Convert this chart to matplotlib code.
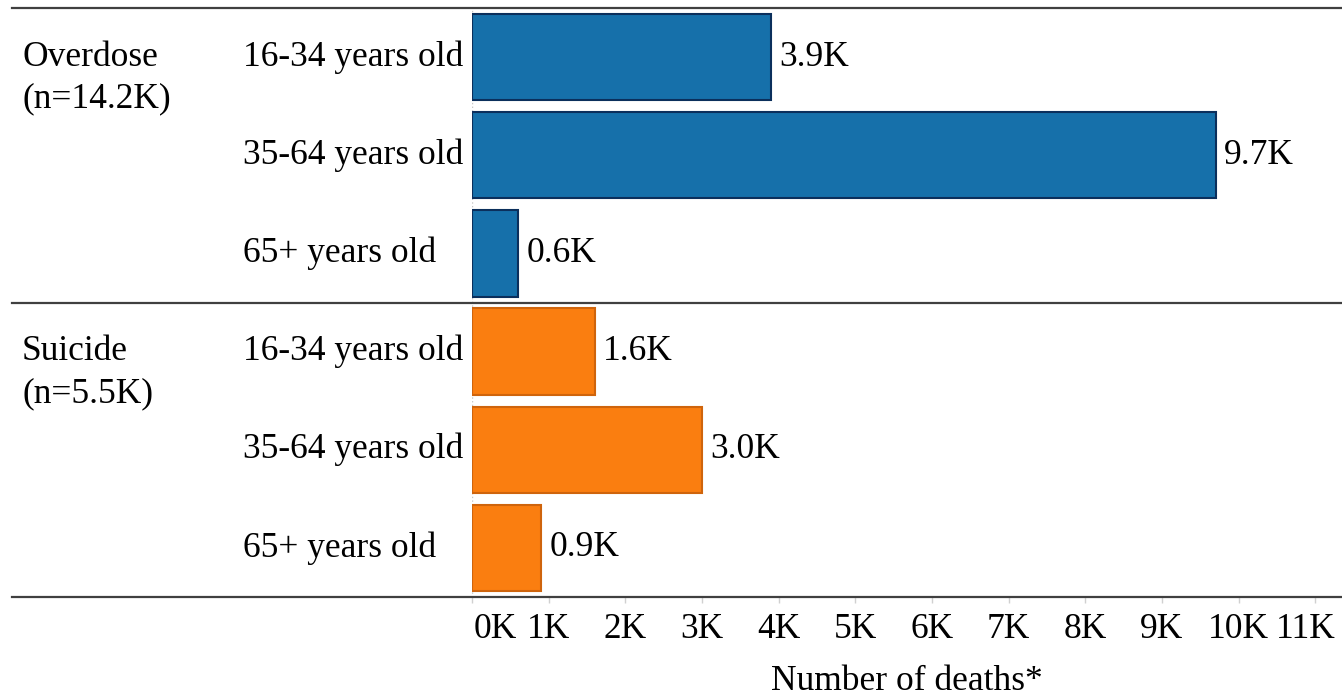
import matplotlib
matplotlib.use("Agg")
import matplotlib.pyplot as plt
import matplotlib.transforms as mtransforms

# Data
groups = ["Overdose", "Suicide"]
group_n = ["(n=14.2K)", "(n=5.5K)"]
ages = ["16-34 years old", "35-64 years old", "65+ years old"]
overdose = [3.9, 9.7, 0.6]   # thousands
suicide = [1.6, 3.0, 0.9]    # thousands
ticks = list(range(0, 12))
tick_labels = [f"{t}K" for t in ticks]

colors = {"Overdose": "#1670aa", "Suicide": "#fa7e10"}
edges = {"Overdose": "#0b2f5c", "Suicide": "#cf640c"}

plt.rcParams['font.family'] = ['Liberation Serif', 'DejaVu Serif']
fs = 25.5

fig = plt.figure(figsize=(13.42, 6.97), dpi=100)
ax = fig.add_axes([472 / 1342, 1 - 597 / 697, 1 - 472 / 1342, (597 - 8) / 697])

values = [overdose, suicide]
row = 0
for g, vals in zip(groups, values):
    for a, v in zip(ages, vals):
        ax.barh(row, v, height=0.88, color=colors[g], edgecolor=edges[g], linewidth=1.5, zorder=3)
        ax.annotate(f"{v:.1f}K", (v, row), xytext=(6, 0), textcoords="offset points",
                    va="center", ha="left", fontsize=fs)
        row += 1

ax.set_ylim(len(groups) * len(ages) - 0.5, -0.5)
ax.set_xlim(0, 11.35)

for s in ax.spines.values():
    s.set_visible(False)
ax.set_yticks([])
ax.set_xticks(ticks)
ax.set_xticklabels([])
ax.tick_params(axis="x", length=4, color="#d0d0d0", width=1)

# dotted zero line
ax.axvline(0, color="#c8c8c8", ls=":", lw=1, zorder=1)

# horizontal separators
xmin = (12 - 472) / (1342 - 472)
for y in [-0.5, 2.5, 5.5]:
    ax.axhline(y, xmin=xmin, xmax=1, color="#404040", lw=1.6, clip_on=False, zorder=4)

# category labels and group labels
tr = mtransforms.blended_transform_factory(fig.transFigure, ax.transData)
row = 0
for gi, g in enumerate(groups):
    ax.text(22 / 1342, row, g, transform=tr, va="center", ha="left", fontsize=fs)
    ax.text(22 / 1342, row + 0.43, group_n[gi], transform=tr, va="center", ha="left", fontsize=fs)
    for a in ages:
        ax.text(243 / 1342, row, a, transform=tr, va="center", ha="left", fontsize=fs)
        row += 1

# x tick labels
trx = ax.get_xaxis_transform()
for t, lab in zip(ticks, tick_labels):
    ha, dx = "center", 0
    if t == ticks[0]:
        ha, dx = "left", 2
    elif t == ticks[-1]:
        ha, dx = "right", 20
    off = mtransforms.offset_copy(trx, fig=fig, x=dx, y=-33, units="dots")
    ax.text(t, 0, lab, transform=off, ha=ha, va="center", fontsize=fs)

fig.text(907 / 1342, 1 - 682 / 697, "Number of deaths*", ha="center", va="center", fontsize=fs)

fig.savefig("out.png", dpi=100)
